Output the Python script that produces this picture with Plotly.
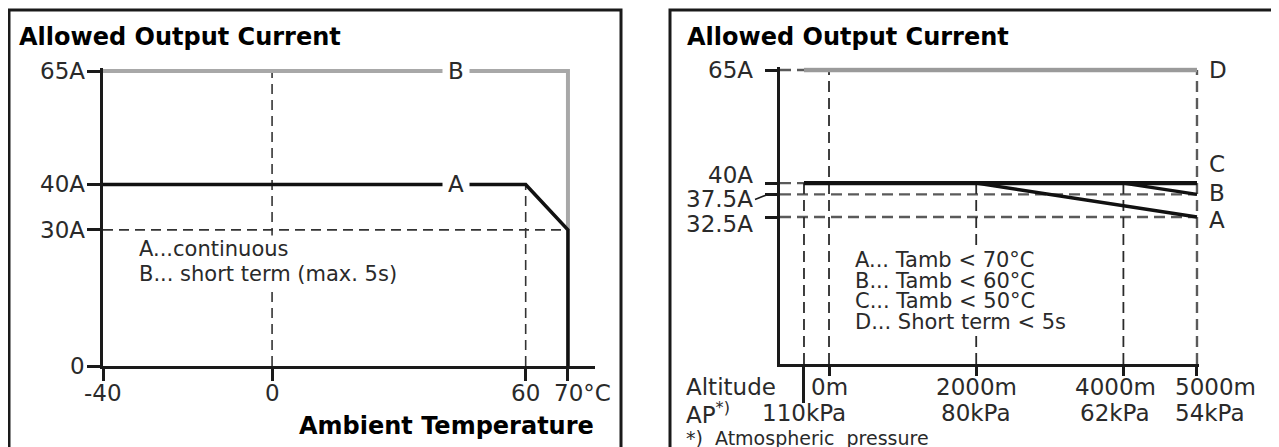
import plotly.graph_objects as go

W, H = 1279, 447
OFF = 8  # page body margin of the written html

# ---------------- data: left chart (temperature derating) ----------------
temp_ticks = [-40, 0, 60, 70]
temp_tick_labels = ["-40", "0", "60", "70°C"]
cur_ticks_left = [0, 30, 40, 65]
cur_tick_labels_left = ["0", "30A", "40A", "65A"]
temp_A = [-40, 60, 70, 70]
curr_A = [40, 40, 30, 0]
temp_B = [-40, 70, 70]
curr_B = [65, 65, 30]
legend_left = ["A...continuous", "B... short term (max. 5s)"]

# ---------------- data: right chart (altitude derating) ----------------
alt_ticks = [0, 2000, 4000, 5000]
alt_tick_labels = ["0m", "2000m", "4000m", "5000m"]
ap_positions = [-340, 2000, 4000, 5000]
ap_labels = ["110kPa", "80kPa", "62kPa", "54kPa"]
cur_ticks_right = [32.5, 37.5, 40, 65]
cur_tick_labels_right = ["32.5A", "37.5A", "40A", "65A"]
alt_A = [-340, 2000, 5000]
curr_rA = [40, 40, 32.5]
alt_B = [-340, 4000, 5000]
curr_rB = [40, 40, 37.5]
alt_C = [-340, 5000]
curr_rC = [40, 40]
alt_D = [-340, 5000]
curr_rD = [65, 65]
legend_right = ["A... Tamb < 70°C", "B... Tamb < 60°C", "C... Tamb < 50°C", "D... Short term < 5s"]


def px(xp):
    return (xp - OFF) / W


def py(yp):
    return 1 - (yp - OFF) / H


FONT = "DejaVu Sans"
TXT = "#2a2a2a"
AX = "#1a1a1a"

fig = go.Figure()

xl_range = [-40, 76.4]
yl_range = [0, 65.6]
xr_range = [-666, 5030]
yr_range = [0, 65.6]

dash_l = dict(color="#333333", width=1.6, dash="10px,6px")
dash_r = dict(color="#5a5a5a", width=2.4, dash="11px,6px")
dash_rv = dict(color="#2a2a2a", width=1.8, dash="11px,6px")


def seg(x, y, line, xa="x", ya="y"):
    fig.add_trace(go.Scatter(x=x, y=y, mode="lines", line=line, xaxis=xa, yaxis=ya,
                             hoverinfo="skip", showlegend=False))


# ---- left guides ----
seg([temp_ticks[0], temp_A[2]], [curr_A[2], curr_A[2]], dash_l)
seg([temp_ticks[1], temp_ticks[1]], [0, curr_B[0]], dash_l)
seg([temp_A[1], temp_A[1]], [0, curr_A[1]], dash_l)

# ---- left curves ----
seg(temp_B, curr_B, dict(color="#a8a8a8", width=4))
seg(temp_A, curr_A, dict(color="#111111", width=3.6))

# ---- right guides ----
x0r = xr_range[0]
seg([x0r, alt_D[0]], [curr_rD[0], curr_rD[0]], dash_r, "x2", "y2")
seg([x0r, alt_C[0]], [curr_rC[0], curr_rC[0]], dash_r, "x2", "y2")
seg([x0r, alt_B[-1]], [curr_rB[-1], curr_rB[-1]], dash_r, "x2", "y2")
seg([x0r, alt_A[-1]], [curr_rA[-1], curr_rA[-1]], dash_r, "x2", "y2")
seg([ap_positions[0]] * 2, [0, curr_rC[0]], dash_rv, "x2", "y2")
seg([alt_ticks[0]] * 2, [0, curr_rD[0]], dash_rv, "x2", "y2")
seg([alt_ticks[1]] * 2, [0, curr_rC[0]], dash_rv, "x2", "y2")
seg([alt_ticks[2]] * 2, [0, curr_rC[0]], dash_rv, "x2", "y2")
seg([alt_ticks[3]] * 2, [0, curr_rD[0]], dash_r, "x2", "y2")

# ---- right curves ----
seg(alt_D, curr_rD, dict(color="#9a9a9a", width=4.5), "x2", "y2")
seg(alt_A, curr_rA, dict(color="#111111", width=3.4), "x2", "y2")
seg(alt_B, curr_rB, dict(color="#111111", width=3.4), "x2", "y2")
seg(alt_C, curr_rC, dict(color="#111111", width=4.4), "x2", "y2")

tickfont = dict(family=FONT, size=23, color=TXT)

fig.update_layout(
    template="none",
    width=W, height=H, margin=dict(l=0, r=0, t=0, b=0, pad=0, autoexpand=False), autosize=False,
    paper_bgcolor="white", plot_bgcolor="white", showlegend=False,
    xaxis=dict(domain=[px(103), px(595)], range=xl_range, showgrid=False, zeroline=False,
               showline=True, linecolor=AX, linewidth=3, ticks="outside", ticklen=12,
               tickwidth=2.5, tickcolor=AX, tickvals=temp_ticks, automargin=False,
               showticklabels=False, anchor="y"),
    yaxis=dict(domain=[py(366), py(68.3)], range=yl_range, showgrid=False, zeroline=False,
               showline=True, linecolor=AX, linewidth=3, ticks="outside", ticklen=13,
               tickwidth=2.5, tickcolor=AX, tickvals=cur_ticks_left, automargin=False,
               showticklabels=False, anchor="x"),
    xaxis2=dict(domain=[px(780), px(1199.2)], range=xr_range, showgrid=False, zeroline=False,
                showline=True, linecolor=AX, linewidth=3, ticks="outside", ticklen=9,
                tickwidth=2.5, tickcolor=AX, tickvals=alt_ticks, showticklabels=False,
                anchor="y2", automargin=False,
                minor=dict(tickvals=[ap_positions[0]], ticks="outside", ticklen=36,
                           tickwidth=3, tickcolor=AX)),
    yaxis2=dict(domain=[py(364), py(67.3)], range=yr_range, showgrid=False, zeroline=False,
                showline=True, linecolor=AX, linewidth=3, ticks="outside", ticklen=12,
                tickwidth=2.5, tickcolor=AX, tickvals=cur_ticks_right, showticklabels=False,
                anchor="x2", automargin=False),
)

ann = []
# titles
for xl in (17, 685):
    ann.append(dict(text="<b>Allowed Output Current</b>", xref="paper", yref="paper",
                    x=px(xl), y=py(37), xanchor="left", yanchor="middle", showarrow=False,
                    font=dict(family=FONT, size=24, color="#000")))
ann.append(dict(text="<b>Ambient Temperature</b>", xref="paper", yref="paper",
                x=px(596), y=py(426), xanchor="right", yanchor="middle", showarrow=False,
                font=dict(family=FONT, size=24, color="#000")))
# left x tick labels
for v, t in zip(temp_ticks, temp_tick_labels):
    if t.endswith("°C"):
        ann.append(dict(text=t, xref="x", yref="y", x=v, y=0, xanchor="left",
                        yanchor="middle", xshift=-16, yshift=-27, showarrow=False,
                        font=tickfont))
    else:
        ann.append(dict(text=t, xref="x", yref="y", x=v, y=0, xanchor="center",
                        yanchor="middle", yshift=-27, showarrow=False, font=tickfont))
# left y tick labels
for v, t in zip(cur_ticks_left, cur_tick_labels_left):
    ann.append(dict(text=t, xref="x", yref="y", x=xl_range[0], y=v, xanchor="right",
                    yanchor="middle", xshift=-16, showarrow=False, font=tickfont))
# curve labels left
for lab, yv in (("A", curr_A[0]), ("B", curr_B[0])):
    ann.append(dict(text=lab, xref="x", yref="y", x=43.5, y=yv, showarrow=False,
                    bgcolor="white", borderpad=5, font=tickfont))
# legend left
for i, t in enumerate(legend_left):
    ann.append(dict(text=t, xref="paper", yref="paper", x=px(137), y=py(249 + 25 * i),
                    xanchor="left", yanchor="middle", showarrow=False, bgcolor="white",
                    font=dict(family=FONT, size=21, color=TXT)))
# legend right
for i, t in enumerate(legend_right):
    ann.append(dict(text=t, xref="paper", yref="paper", x=px(854), y=py(260 + 20.5 * i),
                    xanchor="left", yanchor="middle", showarrow=False, bgcolor="white",
                    borderpad=0, font=dict(family=FONT, size=21, color=TXT)))
# curve labels right
for lab, yv, ys in (("D", curr_rD[0], 0), ("C", curr_rC[0], 19), ("B", curr_rB[-1], 1),
                    ("A", curr_rA[-1], -3)):
    ann.append(dict(text=lab, xref="x2", yref="y2", x=alt_ticks[3], y=yv, xanchor="left",
                    yanchor="middle", xshift=10, yshift=ys, showarrow=False, font=tickfont))
# right y labels (stacked apart like the reference)
ylab_shift = {65: 0, 40: 8, 32.5: -7}
for v, t in zip(cur_ticks_right, cur_tick_labels_right):
    if v == 37.5:
        ann.append(dict(text=t, xref="x2", yref="y2", x=xr_range[0], y=v,
                        xshift=-12, showarrow=True, arrowhead=0, arrowwidth=1.6,
                        arrowcolor=AX, ax=-13, ay=5, xanchor="right", yanchor="middle",
                        font=tickfont, standoff=0))
    else:
        ann.append(dict(text=t, xref="x2", yref="y2", x=xr_range[0], y=v, xshift=-25,
                        yshift=ylab_shift[v], xanchor="right", yanchor="middle",
                        showarrow=False, font=tickfont))
# altitude / pressure labels
alt_shift = [0, 0, -8, 19]
ap_shift = [0, 0, -8, 13]
for v, t, s in zip(alt_ticks, alt_tick_labels, alt_shift):
    ann.append(dict(text=t, xref="x2", yref="y2", x=v, y=0, yshift=-23, xshift=s,
                    showarrow=False, yanchor="middle", font=tickfont))
for v, t, s in zip(ap_positions, ap_labels, ap_shift):
    ann.append(dict(text=t, xref="x2", yref="y2", x=v, y=0, yshift=-49, xshift=s,
                    showarrow=False, yanchor="middle", font=tickfont))
ann.append(dict(text="Altitude", xref="paper", yref="paper", x=px(684), y=py(387),
                xanchor="left", yanchor="middle", showarrow=False, font=tickfont))
ann.append(dict(text="AP<sup>*)</sup>", xref="paper", yref="paper", x=px(684), y=py(413),
                xanchor="left", yanchor="middle", showarrow=False, font=tickfont))
ann.append(dict(text="*)  Atmospheric  pressure", xref="paper", yref="paper", x=px(684),
                y=py(438), xanchor="left", yanchor="middle", showarrow=False,
                font=dict(family=FONT, size=19, color=TXT)))
fig.update_layout(annotations=ann)

# panel frames
fig.add_shape(type="rect", xref="paper", yref="paper", x0=px(9), x1=px(621), y0=-0.1,
              y1=py(10), line=dict(color=AX, width=3), layer="below")
fig.add_shape(type="rect", xref="paper", yref="paper", x0=px(670), x1=1.1, y0=-0.1,
              y1=py(10), line=dict(color=AX, width=3), layer="below")

fig.write_html("out.html")
